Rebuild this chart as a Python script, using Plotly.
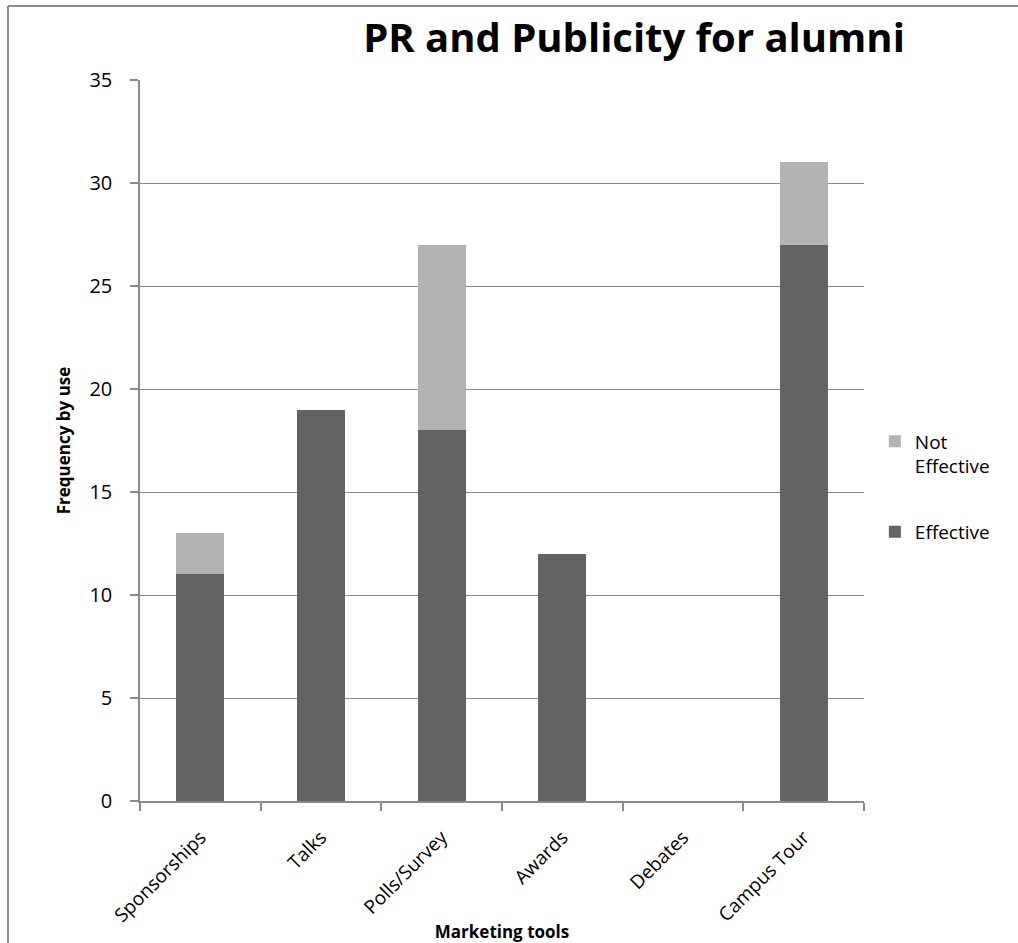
import plotly.graph_objects as go

categories = ["Sponsorships", "Talks", "Polls/Survey", "Awards", "Debates", "Campus Tour"]
effective = [11, 19, 18, 12, 0, 27]
not_effective = [2, 0, 9, 0, 0, 4]
y_ticks = [0, 5, 10, 15, 20, 25, 30, 35]

FONT = "Open Sans"
W, H = 1018, 943
L, R, T, B = 140, 154, 80, 142
pw, ph = W - L - R, H - T - B

def px_x(p):
    return (p - L) / pw

def px_y(p):
    return (H - B - p) / ph

fig = go.Figure()
fig.add_trace(go.Bar(x=categories, y=effective, name="Effective",
                     marker=dict(color="#636363", line=dict(width=0)),
                     legendgroup="b", legendrank=2))
fig.add_trace(go.Bar(x=categories, y=not_effective, name="Not<br>Effective",
                     marker=dict(color="#b3b3b3", line=dict(width=0)),
                     legendgroup="a", legendrank=1))

fig.update_layout(
    width=W, height=H,
    margin=dict(l=L, r=R, t=T, b=B, autoexpand=False),
    barmode="stack", bargap=0.6,
    plot_bgcolor="white", paper_bgcolor="white",
    font=dict(family=FONT, color="black", size=18),
    title=dict(text="<b>PR and Publicity for alumni</b>",
               x=px_x(634), xref="paper", xanchor="center",
               y=1 - 38 / H, yanchor="middle",
               font=dict(size=40, family=FONT, color="black")),
    legend=dict(x=1.015, xanchor="left", y=px_y(487), yanchor="middle",
                traceorder="grouped", tracegroupgap=38, valign="top",
                font=dict(size=19, family=FONT), bgcolor="rgba(0,0,0,0)"),
    showlegend=True,
)

fig.update_xaxes(
    type="category", showline=True, linecolor="#8a8a8a", linewidth=1.5,
    ticks="outside", tickson="boundaries", ticklen=8, tickcolor="#8a8a8a",
    tickwidth=1.5, tickangle=-45, tickfont=dict(size=19, family=FONT),
    ticklabelstandoff=16, automargin=False,
    showgrid=False,
    title=dict(text="<b>Marketing tools</b>", font=dict(size=17, family=FONT), standoff=14),
)
fig.update_yaxes(
    range=[0, 35], tickvals=y_ticks, showline=True, linecolor="#8a8a8a",
    linewidth=1.5, ticks="outside", ticklen=8, tickcolor="#8a8a8a", tickwidth=1.5,
    ticklabelstandoff=14, automargin=False,
    showgrid=True, gridcolor="#8a8a8a", gridwidth=1.2, zeroline=False,
    tickfont=dict(size=20, family=FONT),
    title=dict(text="<b>Frequency by use</b>", font=dict(size=17, family=FONT), standoff=14),
)

# outer chart border (top and left visible in the reference)
bx, by = px_x(8), px_y(6)
fig.add_shape(type="line", xref="paper", yref="paper", x0=bx, x1=px_x(W), y0=by, y1=by,
              line=dict(color="#8c8c8c", width=2))
fig.add_shape(type="line", xref="paper", yref="paper", x0=bx, x1=bx, y0=by, y1=px_y(H),
              line=dict(color="#8c8c8c", width=2))

fig.write_html("out.html")
